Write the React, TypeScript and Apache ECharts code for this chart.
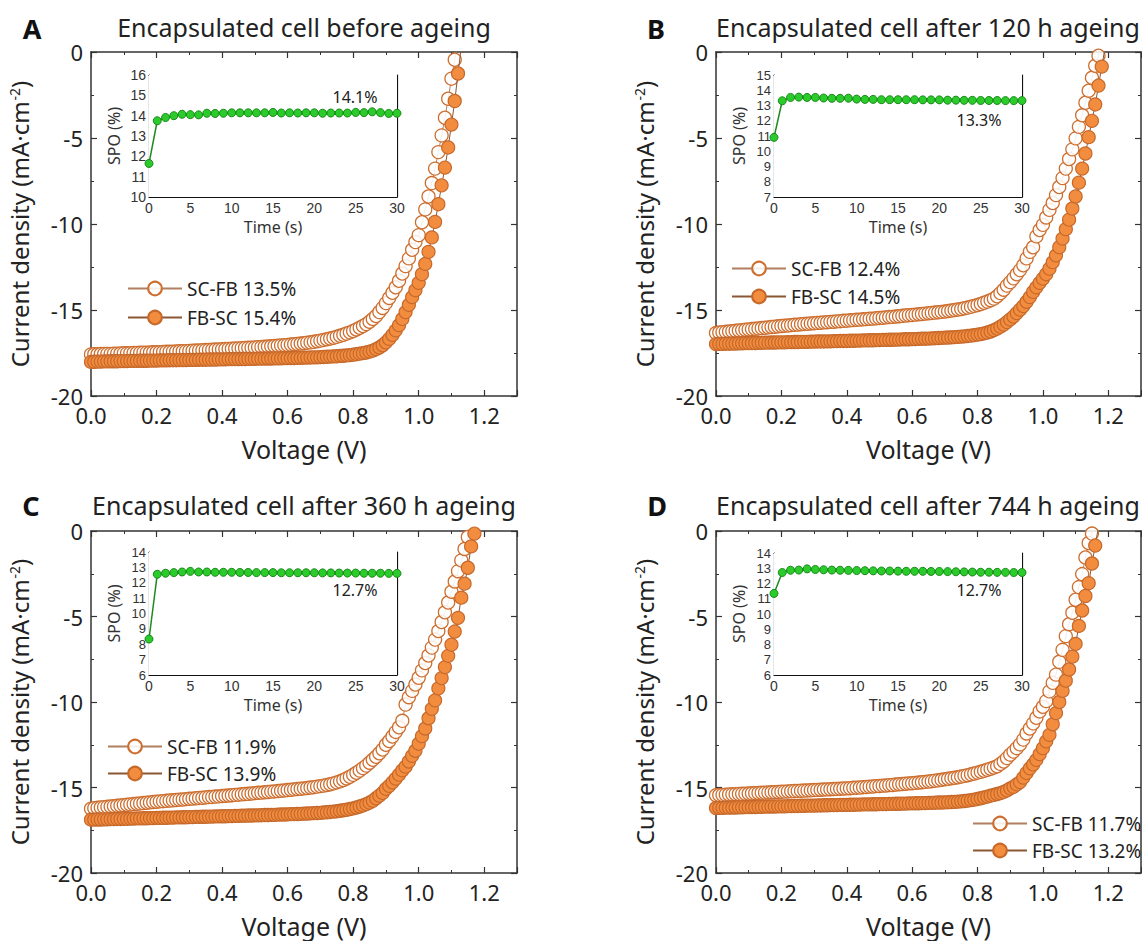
import React, { useEffect, useRef } from "react";
import * as echarts from "echarts";

const FONT = '"Noto Sans", "Open Sans", sans-serif';
const SMALL_FONT = '"Liberation Sans", Arial, sans-serif';
const TXT = "#222";

// Voltage grid (V)
const VOLTAGE = [
  0.0, 0.01, 0.02, 0.03, 0.04, 0.05, 0.06, 0.07, 0.08, 0.09,
  0.1, 0.11, 0.12, 0.13, 0.14, 0.15, 0.16, 0.17, 0.18, 0.19,
  0.2, 0.21, 0.22, 0.23, 0.24, 0.25, 0.26, 0.27, 0.28, 0.29,
  0.3, 0.31, 0.32, 0.33, 0.34, 0.35, 0.36, 0.37, 0.38, 0.39,
  0.4, 0.41, 0.42, 0.43, 0.44, 0.45, 0.46, 0.47, 0.48, 0.49,
  0.5, 0.51, 0.52, 0.53, 0.54, 0.55, 0.56, 0.57, 0.58, 0.59,
  0.6, 0.61, 0.62, 0.63, 0.64, 0.65, 0.66, 0.67, 0.68, 0.69,
  0.7, 0.71, 0.72, 0.73, 0.74, 0.75, 0.76, 0.77, 0.78, 0.79,
  0.8, 0.81, 0.82, 0.83, 0.84, 0.85, 0.86, 0.87, 0.88, 0.89,
  0.9, 0.91, 0.92, 0.93, 0.94, 0.95, 0.96, 0.97, 0.98, 0.99,
  1.0, 1.01, 1.02, 1.03, 1.04, 1.05, 1.06, 1.07, 1.08, 1.09,
  1.1, 1.11, 1.12, 1.13, 1.14, 1.15, 1.16, 1.17, 1.18, 1.19, 1.2,
];

// Current density (mA/cm2), index-aligned with VOLTAGE
const A_SC_FB = [
  -17.58, -17.57, -17.57, -17.56, -17.56, -17.55, -17.55, -17.54, -17.54, -17.53,
  -17.52, -17.52, -17.51, -17.5, -17.5, -17.49, -17.48, -17.48, -17.47, -17.46,
  -17.46, -17.45, -17.44, -17.43, -17.43, -17.42, -17.41, -17.4, -17.4, -17.39,
  -17.38, -17.37, -17.36, -17.35, -17.34, -17.33, -17.32, -17.31, -17.3, -17.29,
  -17.28, -17.27, -17.26, -17.25, -17.24, -17.23, -17.22, -17.21, -17.2, -17.19,
  -17.18, -17.16, -17.15, -17.14, -17.12, -17.11, -17.09, -17.08, -17.06, -17.05,
  -17.03, -17.01, -16.99, -16.97, -16.95, -16.93, -16.9, -16.88, -16.85, -16.82,
  -16.78, -16.74, -16.7, -16.66, -16.61, -16.56, -16.5, -16.44, -16.37, -16.3,
  -16.22, -16.13, -16.03, -15.93, -15.82, -15.68, -15.52, -15.35, -15.12, -14.88,
  -14.6, -14.3, -14.0, -13.68, -13.3, -12.88, -12.45, -12.0, -11.5, -11.05,
  -10.65, -9.9, -9.15, -8.4, -7.62, -6.78, -5.82, -4.85, -3.82, -2.72,
  -1.55, -0.45, 0.65,
];
const A_FB_SC = [
  -18.02, -18.01, -18.0, -18.0, -17.99, -17.99, -17.98, -17.98, -17.98, -17.97,
  -17.97, -17.97, -17.96, -17.96, -17.96, -17.95, -17.95, -17.95, -17.94, -17.94,
  -17.94, -17.93, -17.93, -17.93, -17.92, -17.92, -17.92, -17.91, -17.91, -17.91,
  -17.9, -17.9, -17.9, -17.89, -17.89, -17.89, -17.88, -17.88, -17.88, -17.87,
  -17.87, -17.87, -17.86, -17.86, -17.86, -17.85, -17.85, -17.85, -17.84, -17.84,
  -17.84, -17.83, -17.83, -17.83, -17.82, -17.82, -17.81, -17.81, -17.81, -17.8,
  -17.8, -17.79, -17.79, -17.78, -17.78, -17.77, -17.77, -17.76, -17.75, -17.75,
  -17.74, -17.73, -17.72, -17.71, -17.7, -17.69, -17.67, -17.66, -17.64, -17.62,
  -17.6, -17.57, -17.54, -17.51, -17.47, -17.42, -17.36, -17.28, -17.18, -17.05,
  -16.88, -16.68, -16.45, -16.18, -15.88, -15.52, -15.12, -14.7, -14.25, -13.85,
  -13.42, -12.92, -12.32, -11.62, -10.78, -9.88, -8.85, -7.75, -6.72, -5.55,
  -4.22, -2.85, -1.25, 0.3,
];
const B_SC_FB = [
  -16.34, -16.31, -16.29, -16.27, -16.25, -16.23, -16.21, -16.19, -16.17, -16.15,
  -16.13, -16.11, -16.09, -16.07, -16.05, -16.03, -16.01, -15.99, -15.97, -15.95,
  -15.93, -15.91, -15.9, -15.88, -15.86, -15.85, -15.83, -15.81, -15.8, -15.78,
  -15.77, -15.75, -15.74, -15.72, -15.71, -15.69, -15.68, -15.66, -15.65, -15.63,
  -15.62, -15.6, -15.59, -15.57, -15.56, -15.54, -15.53, -15.51, -15.5, -15.48,
  -15.46, -15.45, -15.43, -15.41, -15.4, -15.38, -15.36, -15.34, -15.32, -15.3,
  -15.29, -15.27, -15.25, -15.23, -15.21, -15.19, -15.17, -15.15, -15.13, -15.11,
  -15.09, -15.06, -15.03, -15.0, -14.97, -14.94, -14.9, -14.86, -14.81, -14.76,
  -14.71, -14.65, -14.58, -14.51, -14.43, -14.34, -14.2, -14.02, -13.82, -13.58,
  -13.38, -13.16, -12.92, -12.68, -12.4, -12.0, -11.62, -11.35, -10.72, -10.35,
  -10.05, -9.62, -9.18, -8.78, -8.32, -7.85, -7.33, -6.78, -6.22, -5.66,
  -5.02, -4.35, -3.68, -2.95, -2.25, -1.5, -0.8, -0.22, 0.45,
];
const B_FB_SC = [
  -16.98, -16.97, -16.97, -16.96, -16.96, -16.95, -16.95, -16.94, -16.94, -16.93,
  -16.93, -16.92, -16.92, -16.91, -16.91, -16.9, -16.9, -16.89, -16.89, -16.88,
  -16.88, -16.88, -16.87, -16.87, -16.86, -16.86, -16.85, -16.85, -16.85, -16.84,
  -16.84, -16.83, -16.83, -16.83, -16.82, -16.82, -16.81, -16.81, -16.8, -16.8,
  -16.8, -16.79, -16.79, -16.78, -16.78, -16.77, -16.77, -16.76, -16.76, -16.75,
  -16.75, -16.74, -16.74, -16.73, -16.73, -16.72, -16.72, -16.71, -16.7, -16.7,
  -16.69, -16.69, -16.68, -16.67, -16.67, -16.66, -16.65, -16.64, -16.63, -16.62,
  -16.61, -16.6, -16.59, -16.58, -16.56, -16.55, -16.53, -16.51, -16.49, -16.46,
  -16.43, -16.4, -16.36, -16.31, -16.25, -16.17, -16.08, -15.97, -15.85, -15.7,
  -15.55, -15.38, -15.18, -14.98, -14.77, -14.52, -14.25, -13.95, -13.68, -13.42,
  -13.18, -12.92, -12.6, -12.22, -11.82, -11.35, -10.85, -10.3, -9.75, -9.1,
  -8.4, -7.6, -6.78, -5.9, -4.95, -4.0, -3.05, -1.95, -0.85, 0.25,
];
const C_SC_FB = [
  -16.24, -16.21, -16.19, -16.17, -16.15, -16.13, -16.11, -16.09, -16.07, -16.05,
  -16.03, -16.01, -15.99, -15.97, -15.95, -15.93, -15.91, -15.89, -15.87, -15.85,
  -15.83, -15.81, -15.8, -15.78, -15.76, -15.75, -15.73, -15.71, -15.7, -15.68,
  -15.66, -15.65, -15.63, -15.61, -15.6, -15.58, -15.56, -15.55, -15.53, -15.52,
  -15.5, -15.48, -15.47, -15.45, -15.43, -15.42, -15.4, -15.38, -15.37, -15.35,
  -15.33, -15.31, -15.3, -15.28, -15.26, -15.24, -15.23, -15.21, -15.19, -15.17,
  -15.15, -15.13, -15.11, -15.09, -15.07, -15.05, -15.03, -15.0, -14.98, -14.95,
  -14.92, -14.89, -14.85, -14.81, -14.76, -14.7, -14.64, -14.56, -14.47, -14.37,
  -14.26, -14.14, -14.01, -13.87, -13.72, -13.55, -13.38, -13.2, -13.0, -12.78,
  -12.5, -12.28, -12.02, -11.75, -11.48, -11.1, -10.15, -9.72, -9.35, -8.98,
  -8.58, -8.15, -7.72, -7.28, -6.82, -6.35, -5.85, -5.32, -4.75, -4.18,
  -3.55, -2.95, -2.35, -1.72, -1.05, -0.35, 0.35,
];
const C_FB_SC = [
  -16.88, -16.88, -16.87, -16.87, -16.86, -16.86, -16.85, -16.85, -16.84, -16.84,
  -16.83, -16.83, -16.82, -16.82, -16.81, -16.81, -16.8, -16.8, -16.79, -16.79,
  -16.78, -16.78, -16.77, -16.77, -16.76, -16.76, -16.75, -16.75, -16.74, -16.74,
  -16.73, -16.73, -16.72, -16.72, -16.71, -16.71, -16.7, -16.7, -16.69, -16.69,
  -16.68, -16.68, -16.67, -16.67, -16.66, -16.66, -16.65, -16.65, -16.64, -16.64,
  -16.63, -16.63, -16.62, -16.61, -16.61, -16.6, -16.6, -16.59, -16.58, -16.58,
  -16.57, -16.56, -16.56, -16.55, -16.54, -16.53, -16.52, -16.51, -16.5, -16.49,
  -16.48, -16.46, -16.45, -16.43, -16.41, -16.39, -16.36, -16.33, -16.3, -16.26,
  -16.22, -16.17, -16.11, -16.05, -15.97, -15.88, -15.78, -15.63, -15.48, -15.32,
  -15.08, -14.9, -14.7, -14.48, -14.25, -14.0, -13.78, -13.48, -13.15, -12.85,
  -12.44, -12.0, -11.55, -10.95, -10.4, -9.9, -9.2, -8.6, -7.96, -7.3,
  -6.65, -5.88, -5.08, -3.9, -3.08, -2.15, -0.9, -0.15, 0.6,
];
const D_SC_FB = [
  -15.45, -15.44, -15.43, -15.42, -15.41, -15.4, -15.39, -15.38, -15.37, -15.36,
  -15.35, -15.34, -15.33, -15.32, -15.31, -15.3, -15.29, -15.28, -15.27, -15.26,
  -15.25, -15.24, -15.23, -15.22, -15.21, -15.2, -15.19, -15.18, -15.17, -15.16,
  -15.15, -15.14, -15.13, -15.12, -15.11, -15.1, -15.09, -15.08, -15.07, -15.06,
  -15.05, -15.04, -15.02, -15.01, -15.0, -14.98, -14.97, -14.95, -14.94, -14.92,
  -14.91, -14.89, -14.88, -14.86, -14.85, -14.83, -14.81, -14.8, -14.78, -14.76,
  -14.75, -14.73, -14.71, -14.69, -14.67, -14.65, -14.63, -14.6, -14.58, -14.55,
  -14.52, -14.49, -14.46, -14.43, -14.4, -14.36, -14.32, -14.28, -14.23, -14.18,
  -14.13, -14.08, -14.02, -13.96, -13.9, -13.83, -13.76, -13.62, -13.48, -13.28,
  -13.08, -12.9, -12.7, -12.48, -12.2, -11.84, -11.55, -11.25, -10.92, -10.55,
  -10.28, -9.95, -9.38, -8.88, -8.4, -7.65, -6.95, -6.15, -5.45, -4.78,
  -4.02, -3.28, -2.52, -1.55, -0.7, -0.15, 0.5,
];
const D_FB_SC = [
  -16.2, -16.19, -16.19, -16.18, -16.18, -16.17, -16.17, -16.16, -16.16, -16.15,
  -16.15, -16.14, -16.14, -16.13, -16.13, -16.12, -16.12, -16.11, -16.11, -16.1,
  -16.1, -16.1, -16.09, -16.09, -16.08, -16.08, -16.07, -16.07, -16.06, -16.06,
  -16.06, -16.05, -16.05, -16.04, -16.04, -16.03, -16.03, -16.03, -16.02, -16.02,
  -16.02, -16.01, -16.01, -16.0, -16.0, -15.99, -15.99, -15.99, -15.98, -15.98,
  -15.97, -15.97, -15.97, -15.96, -15.96, -15.95, -15.95, -15.94, -15.94, -15.93,
  -15.93, -15.92, -15.92, -15.91, -15.91, -15.9, -15.9, -15.89, -15.88, -15.88,
  -15.87, -15.86, -15.85, -15.84, -15.83, -15.81, -15.79, -15.77, -15.74, -15.71,
  -15.67, -15.63, -15.58, -15.53, -15.48, -15.43, -15.38, -15.33, -15.26, -15.17,
  -15.05, -14.96, -14.82, -14.68, -14.42, -14.15, -13.88, -13.65, -13.38, -13.05,
  -12.7, -12.3, -11.92, -11.3, -10.65, -10.0, -9.35, -8.75, -8.1, -7.35,
  -6.6, -5.55, -4.65, -3.8, -3.05, -1.9, -0.85, 0.25,
];

// Stabilised power output insets
const TIME_S = [
  0, 1, 2, 3, 4, 5, 6, 7, 8, 9, 10, 11, 12, 13, 14, 15,
  16, 17, 18, 19, 20, 21, 22, 23, 24, 25, 26, 27, 28, 29, 30,
];
const A_SPO = [
  11.65, 13.75, 13.91, 14.0, 14.07, 14.05, 14.04, 14.12, 14.11, 14.12, 14.14,
  14.14, 14.14, 14.14, 14.14, 14.16, 14.13, 14.14, 14.13, 14.14, 14.14,
  14.12, 14.13, 14.13, 14.13, 14.16, 14.15, 14.19, 14.15, 14.11, 14.12,
];
const B_SPO = [
  10.91, 13.31, 13.53, 13.55, 13.53, 13.53, 13.49, 13.47, 13.47, 13.48, 13.42,
  13.4, 13.4, 13.38, 13.38, 13.38, 13.38, 13.38, 13.37, 13.37, 13.37,
  13.35, 13.35, 13.34, 13.34, 13.33, 13.33, 13.33, 13.32, 13.32, 13.32,
];
const C_SPO = [
  8.34, 12.55, 12.62, 12.66, 12.7, 12.74, 12.7, 12.7, 12.68, 12.68, 12.68,
  12.67, 12.67, 12.66, 12.66, 12.66, 12.65, 12.65, 12.65, 12.65, 12.65,
  12.64, 12.64, 12.63, 12.63, 12.63, 12.62, 12.62, 12.62, 12.61, 12.61,
];
const D_SPO = [
  11.35, 12.72, 12.87, 12.88, 12.96, 12.92, 12.9, 12.88, 12.87, 12.86, 12.85,
  12.84, 12.83, 12.82, 12.82, 12.81, 12.8, 12.8, 12.8, 12.79, 12.79,
  12.78, 12.77, 12.76, 12.75, 12.74, 12.74, 12.73, 12.73, 12.72, 12.72,
];

const LETTERS = ["A", "B", "C", "D"];
const TITLES = [
  "Encapsulated cell before ageing",
  "Encapsulated cell after 120 h ageing",
  "Encapsulated cell after 360 h ageing",
  "Encapsulated cell after 744 h ageing",
];
const SC_NAMES = ["SC-FB 13.5%", "SC-FB 12.4%", "SC-FB 11.9%", "SC-FB 11.7%"];
const FB_NAMES = ["FB-SC 15.4%", "FB-SC 14.5%", "FB-SC 13.9%", "FB-SC 13.2%"];
const SC_DATA = [A_SC_FB, B_SC_FB, C_SC_FB, D_SC_FB];
const FB_DATA = [A_FB_SC, B_FB_SC, C_FB_SC, D_FB_SC];
const SPO_DATA = [A_SPO, B_SPO, C_SPO, D_SPO];
const SPO_LABELS = ["14.1%", "13.3%", "12.7%", "12.7%"];
const SPO_MIN = [10, 7, 6, 6];
const SPO_MAX = [16, 15, 14, 14];

// Layout (pixels)
const LAYOUT = [
  { grid: { left: 91, top: 52, width: 426, height: 344 }, inset: { left: 149, top: 75, width: 248, height: 122 }, letter: [32, 28], title: [304, 27], legend: { left: 127, top: 279, gap: 10 }, spoText: [355, 97], yFont: 14 },
  { grid: { left: 716, top: 52, width: 425, height: 344 }, inset: { left: 774, top: 75, width: 248, height: 122 }, letter: [656, 28], title: [928, 27], legend: { left: 731, top: 259, gap: 9 }, spoText: [979, 120], yFont: 13 },
  { grid: { left: 91, top: 531, width: 426, height: 342 }, inset: { left: 149, top: 552, width: 248, height: 123 }, letter: [31, 505], title: [304, 505], legend: { left: 107, top: 737, gap: 8 }, spoText: [355, 590], yFont: 13 },
  { grid: { left: 716, top: 531, width: 425, height: 342 }, inset: { left: 774, top: 553, width: 248, height: 122 }, letter: [657, 505], title: [928, 505], legend: { left: 972, top: 814, gap: 8 }, spoText: [979, 590], yFont: 13 },
];

const AX = "#333";

function pairs(xs: number[], ys: number[]) {
  return ys.map((y, i) => [xs[i], y]);
}

function buildOption() {
  const grid: any[] = [];
  const xAxis: any[] = [];
  const yAxis: any[] = [];
  const series: any[] = [];
  const legend: any[] = [];
  const graphic: any[] = [];

  for (let p = 0; p < 4; p++) {
    const L = LAYOUT[p];
    const gMain = grid.length;
    grid.push({ ...L.grid, containLabel: false, show: false });
    const gIn = grid.length;
    grid.push({ ...L.inset, containLabel: false, show: true, backgroundColor: "#fff", borderWidth: 0, z: 3 });

    const mainTick = { show: true, inside: true, length: 6, lineStyle: { color: AX, width: 1.2 } };
    const mainMinor = { show: true, splitNumber: 2, length: 3, lineStyle: { color: AX, width: 1 } };
    const mainLine = { show: true, onZero: false, lineStyle: { color: AX, width: 1.5 } };

    const xi = xAxis.length;
    xAxis.push({
      type: "value", gridIndex: gMain, position: "bottom", min: 0, max: 1.3, interval: 0.2,
      axisLine: mainLine, axisTick: mainTick, minorTick: mainMinor,
      splitLine: { show: false }, minorSplitLine: { show: false },
      axisLabel: { show: true, fontSize: 22, color: TXT, fontFamily: FONT, margin: 8, showMaxLabel: false, formatter: (v: number) => v.toFixed(1) },
      name: "Voltage (V)", nameLocation: "middle", nameGap: 40,
      nameTextStyle: { fontSize: 25, color: TXT, fontFamily: FONT },
    });
    xAxis.push({
      type: "value", gridIndex: gMain, position: "top", min: 0, max: 1.3, interval: 0.2,
      axisLine: mainLine, axisTick: mainTick, minorTick: mainMinor,
      splitLine: { show: false }, axisLabel: { show: false },
    });
    const yi = yAxis.length;
    yAxis.push({
      type: "value", gridIndex: gMain, position: "left", min: -20, max: 0, interval: 5,
      axisLine: mainLine, axisTick: mainTick, minorTick: mainMinor,
      splitLine: { show: false }, minorSplitLine: { show: false },
      axisLabel: { show: true, fontSize: 22, color: TXT, fontFamily: FONT, margin: 8 },
      name: "{a|Current density (mA·cm}{s|-2}{a|)}", nameLocation: "middle", nameGap: 56,
      nameTextStyle: {
        color: TXT, fontFamily: FONT, fontSize: 24,
        rich: {
          a: { fontSize: 24, color: TXT, fontFamily: FONT, lineHeight: 28, verticalAlign: "top" },
          s: { fontSize: 14, color: TXT, fontFamily: FONT, lineHeight: 28, verticalAlign: "top", padding: [0, 0, 0, 1] },
        },
      },
    });
    yAxis.push({
      type: "value", gridIndex: gMain, position: "right", min: -20, max: 0, interval: 5,
      axisLine: mainLine, axisTick: mainTick, minorTick: mainMinor,
      splitLine: { show: false }, axisLabel: { show: false },
    });

    // Inset axes
    const inTick = { show: true, inside: true, length: 4, lineStyle: { color: "#111", width: 1 } };
    const inLine = { show: true, onZero: false, lineStyle: { color: "#111", width: 1.2 } };
    const inMinorX = { show: true, splitNumber: 2, length: 3, lineStyle: { color: "#111", width: 1 } };
    const ixi = xAxis.length;
    xAxis.push({
      type: "value", gridIndex: gIn, position: "bottom", min: 0, max: 30, interval: 5,
      axisLine: inLine, axisTick: inTick, minorTick: inMinorX,
      splitLine: { show: false }, minorSplitLine: { show: false },
      axisLabel: { show: true, fontSize: 14, color: "#333", fontFamily: SMALL_FONT, margin: 4, lineHeight: 14 },
      name: "Time (s)", nameLocation: "middle", nameGap: 21,
      nameTextStyle: { fontSize: 16, color: "#333", fontFamily: FONT, lineHeight: 17 },
    });
    xAxis.push({
      type: "value", gridIndex: gIn, position: "top", min: 0, max: 30, interval: 5,
      axisLine: inLine, axisTick: inTick, minorTick: inMinorX,
      splitLine: { show: false }, axisLabel: { show: false },
    });
    const iyi = yAxis.length;
    yAxis.push({
      type: "value", gridIndex: gIn, position: "left", min: SPO_MIN[p], max: SPO_MAX[p], interval: 1,
      axisLine: inLine, axisTick: inTick,
      splitLine: { show: false },
      axisLabel: { show: true, fontSize: L.yFont, color: "#333", fontFamily: SMALL_FONT, margin: 3, lineHeight: L.yFont },
      name: "SPO (%)", nameLocation: "middle", nameGap: 27,
      nameTextStyle: { fontSize: 16, color: "#333", fontFamily: FONT, lineHeight: 17 },
    });
    yAxis.push({
      type: "value", gridIndex: gIn, position: "right", min: SPO_MIN[p], max: SPO_MAX[p], interval: 1,
      axisLine: inLine, axisTick: inTick,
      splitLine: { show: false }, axisLabel: { show: false },
    });

    series.push({
      type: "line", name: SC_NAMES[p], xAxisIndex: xi, yAxisIndex: yi,
      data: pairs(VOLTAGE, SC_DATA[p]),
      symbol: "circle", symbolSize: 13, showAllSymbol: true, clip: true,
      lineStyle: { color: "#b08060", width: 1 },
      itemStyle: { color: "rgba(255,255,255,0.85)", borderColor: "#CD6E2E", borderWidth: 1.3 },
      emphasis: { disabled: true }, z: 2,
    });
    series.push({
      type: "line", name: FB_NAMES[p], xAxisIndex: xi, yAxisIndex: yi,
      data: pairs(VOLTAGE, FB_DATA[p]),
      symbol: "circle", symbolSize: 13, showAllSymbol: true, clip: true,
      lineStyle: { color: "#8a5634", width: 1 },
      itemStyle: { color: "#F28D3F", borderColor: "#C6682A", borderWidth: 1.2 },
      emphasis: { disabled: true }, z: 3,
    });
    series.push({
      type: "line", name: "SPO " + LETTERS[p], xAxisIndex: ixi, yAxisIndex: iyi,
      data: pairs(TIME_S, SPO_DATA[p]),
      symbol: "circle", symbolSize: 8, showAllSymbol: true, clip: false,
      lineStyle: { color: "#1E8A1E", width: 1.5 },
      itemStyle: { color: "#2CCB2C", borderColor: "#178A17", borderWidth: 1 },
      emphasis: { disabled: true }, z: 5,
    });

    legend.push({
      orient: "vertical", left: L.legend.left, top: L.legend.top, padding: 0,
      itemWidth: 54, itemHeight: 17, itemGap: L.legend.gap, selectedMode: false,
      data: [SC_NAMES[p], FB_NAMES[p]],
      textStyle: { fontSize: 19, color: TXT, fontFamily: FONT, padding: [0, 0, 0, 0] },
    });

    graphic.push({
      type: "text", x: L.letter[0], y: L.letter[1],
      style: { text: LETTERS[p], fontSize: 27, fontWeight: "bold", fontFamily: FONT, fill: "#111", align: "center", verticalAlign: "middle", textAlign: "center", textVerticalAlign: "middle" },
    });
    graphic.push({
      type: "text", x: L.title[0], y: L.title[1],
      style: { text: TITLES[p], fontSize: 25, fontFamily: FONT, fill: TXT, align: "center", verticalAlign: "middle", textAlign: "center", textVerticalAlign: "middle" },
    });
    graphic.push({
      type: "text", x: L.spoText[0], y: L.spoText[1], z: 10,
      style: { text: SPO_LABELS[p], fontSize: 16, fontFamily: FONT, fill: TXT, align: "center", verticalAlign: "middle", textAlign: "center", textVerticalAlign: "middle" },
    });
  }

  return {
    animation: false,
    backgroundColor: "#fff",
    textStyle: { fontFamily: FONT },
    grid, xAxis, yAxis, series, legend, graphic,
  };
}

export default function App() {
  const ref = useRef<HTMLDivElement>(null);
  useEffect(() => {
    if (!ref.current) return;
    const chart = echarts.init(ref.current, undefined, { renderer: "svg" });
    chart.setOption(buildOption() as any);
    return () => chart.dispose();
  }, []);
  return (
    <div
      ref={ref}
      style={{ position: "absolute", left: 0, top: 0, width: 1142, height: 941, background: "#fff" }}
    />
  );
}
